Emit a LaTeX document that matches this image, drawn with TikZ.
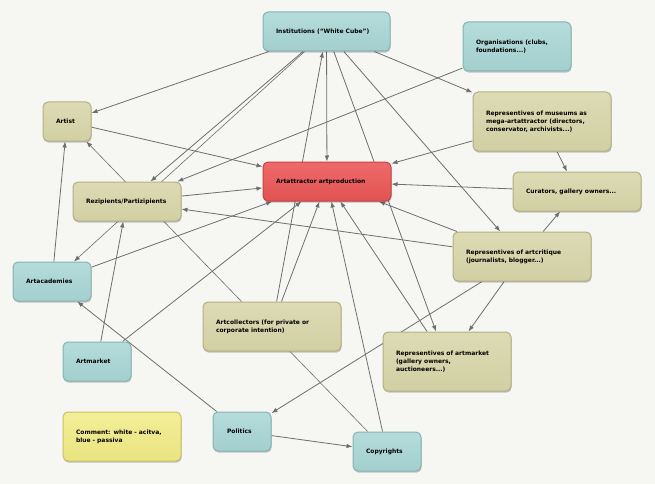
\documentclass[tikz,border=0pt]{standalone}
\usepackage{fontspec}
\setmainfont{DejaVu Sans}
\usetikzlibrary{arrows.meta,shadows,backgrounds}
\definecolor{paper}{HTML}{F6F6F3}
\definecolor{edgegray}{HTML}{6E6E6E}
\definecolor{bluetop}{HTML}{B4DCDB}
\definecolor{bluebot}{HTML}{A3CFCE}
\definecolor{bluebd}{HTML}{86B3B3}
\definecolor{khakitop}{HTML}{DDDBB4}
\definecolor{khakibot}{HTML}{D1CFA3}
\definecolor{khakibd}{HTML}{B2B083}
\definecolor{redtop}{HTML}{EE6A6A}
\definecolor{redbot}{HTML}{E25353}
\definecolor{redbd}{HTML}{C44343}
\definecolor{yeltop}{HTML}{F3EF98}
\definecolor{yelbot}{HTML}{E9E37F}
\definecolor{yelbd}{HTML}{C8C068}
\newcommand{\boxtext}[1]{\begin{tabular}{@{}l@{}}#1\end{tabular}}
\tikzset{
  box/.style={rounded corners=5pt, line width=1pt, inner xsep=13pt, inner ysep=0pt,
    align=left, font=\bfseries\fontsize{6pt}{8pt}\selectfont, text=black,
    drop shadow={shadow xshift=0.6pt, shadow yshift=-1.6pt, fill=black, opacity=0.22}},
  bluebox/.style={box, draw=bluebd, top color=bluetop, bottom color=bluebot},
  khakibox/.style={box, draw=khakibd, top color=khakitop, bottom color=khakibot},
  redbox/.style={box, draw=redbd, top color=redtop, bottom color=redbot},
  yelbox/.style={box, draw=yelbd, top color=yeltop, bottom color=yelbot},
  edge/.style={draw=edgegray, line width=0.8pt, -{Latex[length=6pt,width=4.5pt]}},
  thin edge/.style={draw=edgegray, line width=0.6pt, -{Latex[length=6pt,width=4.5pt]}},
}
\begin{document}
\begin{tikzpicture}[x=1pt,y=-1pt]
\useasboundingbox (0,0) rectangle (655,484);
% nodes
\node[bluebox, text width=101pt, minimum height=39pt] (inst) at (326.5,31.5) {\boxtext{Institutions (“White Cube”)}};
\node[bluebox, text width=82pt, minimum height=49pt] (org) at (517,46.5) {\boxtext{Organisations (clubs,\\foundations...)}};
\node[khakibox, text width=22pt, minimum height=39pt] (artist) at (67,121.5) {\boxtext{Artist}};
\node[khakibox, text width=112pt, minimum height=59pt] (museum) at (542,121.5) {\boxtext{Representives of museums as\\mega-artattractor (directors,\\conservator, archivists...)}};
\node[redbox, text width=102pt, minimum height=39pt] (attr) at (327,181.5) {\boxtext{Artattractor artproduction}};
\node[khakibox, text width=102pt, minimum height=39pt] (cur) at (577,191.5) {\boxtext{Curators, gallery owners...}};
\node[khakibox, text width=82pt, minimum height=39pt] (rez) at (127,201.5) {\boxtext{Rezipients/Partizipients}};
\node[khakibox, text width=112pt, minimum height=49pt] (crit) at (522,256.5) {\boxtext{Representives of artcritique\\(journalists, blogger...)}};
\node[bluebox, text width=52pt, minimum height=39pt] (acad) at (52,281.5) {\boxtext{Artacademies}};
\node[khakibox, text width=112pt, minimum height=49pt] (coll) at (272,326.5) {\boxtext{Artcollectors (for private or\\corporate intention)}};
\node[bluebox, text width=42pt, minimum height=39pt] (market) at (97,361.5) {\boxtext{Artmarket}};
\node[khakibox, text width=102pt, minimum height=59pt] (repm) at (447,361.5) {\boxtext{Representives of artmarket\\(gallery owners,\\auctioneers...)}};
\node[yelbox, text width=92pt, minimum height=49pt] (comment) at (122,436.5) {\boxtext{Comment: white - acitva,\\blue - passiva}};
\node[bluebox, text width=30pt, inner xsep=14pt, minimum height=39pt] (pol) at (242,431.5) {\boxtext{Politics}};
\node[bluebox, text width=42pt, minimum height=39pt] (copy) at (387,451.5) {\boxtext{Copyrights}};
% connectors behind the nodes
\begin{scope}[on background layer]
\fill[paper] (0,0) rectangle (655,484);
\draw[edge] (inst) -- (artist);
\draw[edge] (inst) -- (rez);
\draw[thin edge] (inst) -- (acad);
\draw[edge] (coll) -- (inst);
\draw[edge] (inst) -- (attr);
\draw[edge] (inst) -- (repm);
\draw[edge] (inst) -- (crit);
\draw[edge] (inst) -- (museum);
\draw[edge] (org) -- (rez);
\draw[edge] (artist) -- (attr);
\draw[thin edge] (copy) -- (artist);
\draw[edge] (acad) -- (artist);
\draw[edge] (rez) -- (attr);
\draw[edge] (museum) -- (attr);
\draw[edge] (museum) -- (cur);
\draw[edge] (cur) -- (attr);
\draw[edge] (crit) -- (cur);
\draw[edge] (crit) -- (attr);
\draw[edge] (crit) -- (rez);
\draw[edge] (crit) -- (repm);
\draw[edge] (crit) -- (pol);
\draw[edge] (acad) -- (attr);
\draw[edge] (market) -- (attr);
\draw[edge] (market) -- (rez);
\draw[edge] (coll) -- (attr);
\draw[edge] (copy) -- (attr);
\draw[edge] (repm) -- (attr);
\draw[edge] (pol) -- (acad);
\draw[edge] (pol) -- (copy);
\end{scope}
\end{tikzpicture}
\end{document}
